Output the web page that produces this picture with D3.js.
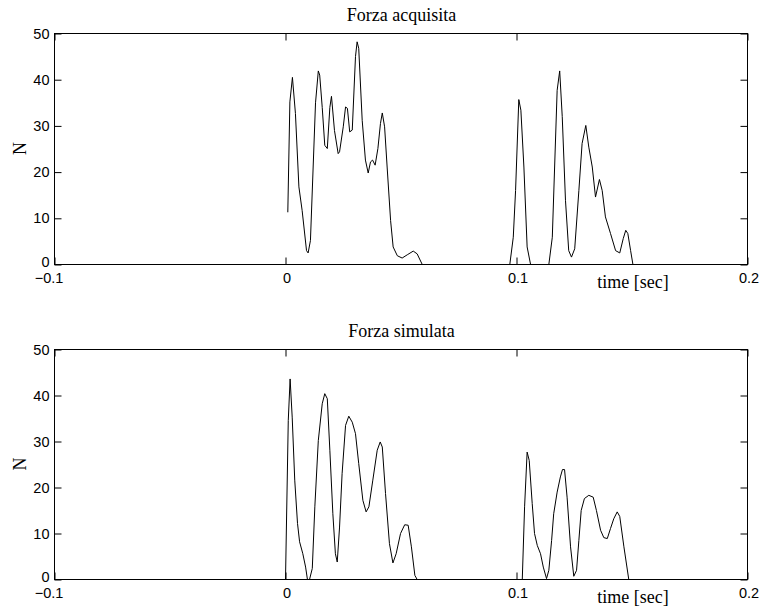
<!DOCTYPE html>
<html>
<head>
<meta charset="utf-8">
<script src="https://cdn.jsdelivr.net/npm/d3@7"></script>
<style>
  html, body { margin: 0; padding: 0; background: #fff; }
  svg { display: block; }
  .tick text { font-family: "Liberation Sans", Arial, sans-serif; font-size: 14.5px; fill: #000; }
  .lbl { font-family: "Liberation Serif", "Times New Roman", serif; font-size: 18px; fill: #000; }
</style>
</head>
<body>
<div id="chart"></div>
<script>
// [time in sec, force in N]
const acquired = [
  [0.0010, 11.3], [0.0019, 35.2], [0.0030, 40.5], [0.0043, 32.7], [0.0058, 16.8],
  [0.0072, 11.7], [0.0091, 3.0], [0.0098, 2.5], [0.0108, 5.2], [0.0130, 35.0],
  [0.0142, 41.9], [0.0148, 41.0], [0.0159, 34.0], [0.0170, 25.8], [0.0181, 25.1],
  [0.0192, 34.0], [0.0199, 36.4], [0.0212, 29.0], [0.0228, 24.0], [0.0234, 24.4],
  [0.0250, 29.8], [0.0260, 34.1], [0.0268, 33.8], [0.0278, 28.7], [0.0289, 29.1],
  [0.0303, 45.0], [0.0310, 48.2], [0.0317, 46.8], [0.0332, 31.2], [0.0346, 22.6],
  [0.0358, 19.8], [0.0368, 22.2], [0.0377, 22.6], [0.0388, 21.5], [0.0400, 25.1],
  [0.0411, 30.5], [0.0419, 32.8], [0.0429, 29.8], [0.0440, 21.1], [0.0455, 9.5],
  [0.0466, 3.8], [0.0484, 1.9], [0.0505, 1.4], [0.0527, 2.1], [0.0553, 2.9],
  [0.0570, 2.3], [0.0592, 0], [0.0971, 0], [0.0986, 5.9], [0.0996, 16.0],
  [0.1010, 35.7], [0.1019, 33.4], [0.1032, 21.1], [0.1046, 3.8], [0.1061, 0],
  [0.1140, 0], [0.1155, 5.9], [0.1176, 37.7], [0.1187, 41.9], [0.1198, 32.0],
  [0.1212, 13.9], [0.1226, 3.0], [0.1238, 1.6], [0.1252, 3.4], [0.1270, 16.0],
  [0.1284, 26.2], [0.1300, 30.1], [0.1313, 25.4], [0.1328, 21.1], [0.1342, 14.6],
  [0.1359, 18.4], [0.1371, 16.0], [0.1385, 10.3], [0.1407, 6.7], [0.1429, 3.0],
  [0.1447, 2.5], [0.1462, 5.6], [0.1473, 7.4], [0.1482, 6.7], [0.1494, 3.0],
  [0.1504, 0], [0.2, 0]
];

const simulated = [
  [0.0000, 0], [0.0012, 34.6], [0.0020, 43.6], [0.0029, 35.3], [0.0040, 21.6],
  [0.0052, 12.2], [0.0061, 8.2], [0.0075, 5.6], [0.0087, 2.7], [0.0095, 0],
  [0.0104, 0], [0.0116, 2.4], [0.0127, 15.8], [0.0142, 30.2], [0.0159, 38.2],
  [0.0170, 40.4], [0.0181, 39.3], [0.0192, 28.1], [0.0205, 14.3], [0.0216, 5.6],
  [0.0224, 3.8], [0.0234, 11.4], [0.0245, 23.0], [0.0260, 33.5], [0.0274, 35.5],
  [0.0289, 34.2], [0.0303, 31.7], [0.0317, 25.2], [0.0335, 17.2], [0.0349, 14.7],
  [0.0361, 15.8], [0.0378, 21.6], [0.0397, 28.1], [0.0410, 29.9], [0.0419, 28.8],
  [0.0433, 18.7], [0.0450, 7.8], [0.0465, 3.6], [0.0479, 5.6], [0.0498, 10.0],
  [0.0516, 11.9], [0.0531, 11.8], [0.0545, 7.1], [0.0560, 0.9], [0.0570, 0],
  [0.1025, 0], [0.1035, 15.8], [0.1046, 27.7], [0.1055, 25.9], [0.1068, 16.5],
  [0.1078, 10.0], [0.1090, 7.4], [0.1104, 5.6], [0.1116, 2.7], [0.1130, 0.2],
  [0.1140, 2.0], [0.1152, 8.5], [0.1161, 14.3], [0.1176, 19.0], [0.1190, 22.3],
  [0.1199, 23.9], [0.1208, 23.9], [0.1219, 17.9], [0.1234, 7.1], [0.1248, 0.7],
  [0.1260, 2.0], [0.1270, 8.5], [0.1280, 15.0], [0.1294, 17.6], [0.1313, 18.3],
  [0.1332, 17.9], [0.1346, 15.0], [0.1364, 10.7], [0.1378, 9.1], [0.1393, 8.9],
  [0.1407, 11.1], [0.1421, 13.2], [0.1436, 14.7], [0.1447, 13.7], [0.1465, 7.1],
  [0.1486, 0], [0.2, 0]
];

const xTicks = [-0.1, 0, 0.1, 0.2];
const yTicks = [0, 10, 20, 30, 40, 50];
const titles = ["Forza acquisita", "Forza simulata"];

const width = 760, height = 610;
const left = 54, right = 747;
const panels = [
  { top: 33, bottom: 264, data: acquired, title: titles[0] },
  { top: 349, bottom: 579, data: simulated, title: titles[1] }
];

const svg = d3.select("#chart").append("svg")
  .attr("width", width)
  .attr("height", height);

const x = d3.scaleLinear().domain([-0.1, 0.2]).range([left, right]);
const fmt = (d) => (d < 0 ? "\u2212" : "") + d3.format("")(Math.abs(d));

panels.forEach((p) => {
  const y = d3.scaleLinear().domain([0, 50]).range([p.bottom, p.top]);
  const g = svg.append("g").attr("transform", "translate(0.5,0.5)");

  const styleAxis = (axis) => {
    axis.select(".domain").remove();
    axis.selectAll(".tick line").attr("stroke", "#000").attr("stroke-width", 1);
  };

  g.append("g")
    .attr("transform", `translate(0,${p.bottom})`)
    .call(d3.axisBottom(x).tickValues(xTicks).tickSize(-7).tickPadding(8.5).tickFormat(fmt))
    .call(styleAxis)
    .call((a) => a.selectAll("text")
      .attr("dy", "0.71em")
      .attr("dx", (d) => (d < 0 ? -6 : 1)));

  g.append("g")
    .attr("transform", `translate(0,${p.top})`)
    .call(d3.axisTop(x).tickValues(xTicks).tickSize(-7).tickFormat(""))
    .call(styleAxis);

  g.append("g")
    .attr("transform", `translate(${left},0)`)
    .call(d3.axisLeft(y).tickValues(yTicks).tickSize(-7).tickPadding(5))
    .call(styleAxis)
    .call((a) => a.selectAll("text").attr("dy", (d) => (d === 0 ? "0.12em" : "0.32em")));

  g.append("g")
    .attr("transform", `translate(${right},0)`)
    .call(d3.axisRight(y).tickValues(yTicks).tickSize(-7).tickFormat(""))
    .call(styleAxis);

  g.append("rect")
    .attr("x", left)
    .attr("y", p.top)
    .attr("width", right - left)
    .attr("height", p.bottom - p.top)
    .attr("fill", "none")
    .attr("stroke", "#000")
    .attr("stroke-width", 1);

  const line = d3.line().x((d) => x(d[0])).y((d) => y(d[1]));
  g.append("path")
    .datum(p.data)
    .attr("d", line)
    .attr("fill", "none")
    .attr("stroke", "#000")
    .attr("stroke-width", 1);

  svg.append("text")
    .attr("class", "lbl")
    .attr("x", (left + right) / 2 + 1)
    .attr("y", p.top - 12)
    .attr("text-anchor", "middle")
    .text(p.title);

  svg.append("text")
    .attr("class", "lbl")
    .attr("transform", `translate(26,${(p.top + p.bottom) / 2}) rotate(-90)`)
    .attr("text-anchor", "middle")
    .text("N");

  svg.append("text")
    .attr("class", "lbl")
    .attr("x", 633)
    .attr("y", p.bottom + 24)
    .attr("text-anchor", "middle")
    .text("time [sec]");
});
</script>
</body>
</html>
